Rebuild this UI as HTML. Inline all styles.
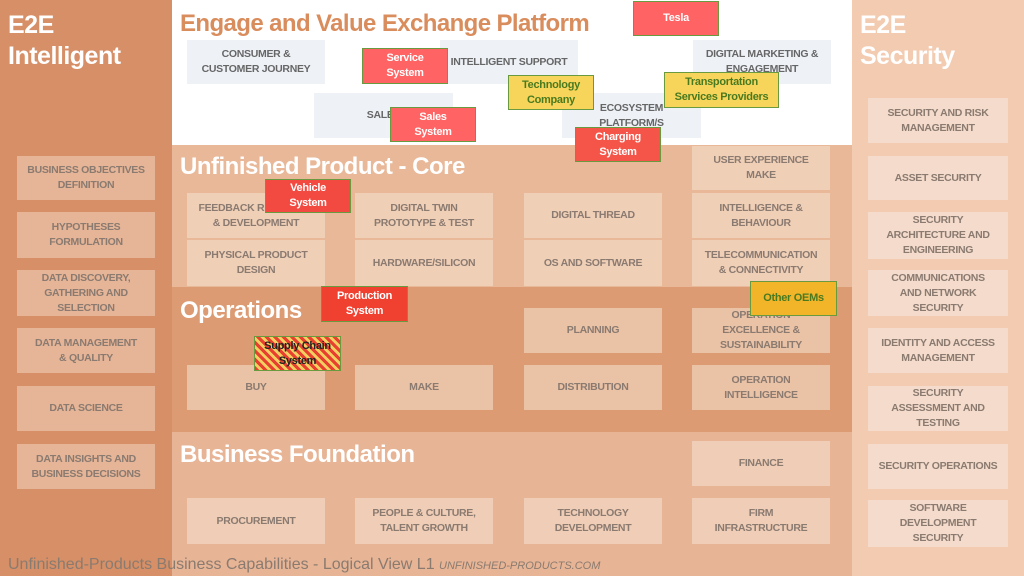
<!DOCTYPE html>
<html><head><style>
*{margin:0;padding:0;box-sizing:border-box}
body{width:1024px;height:576px;overflow:hidden;position:relative;background:#fff;font-family:"Liberation Sans",sans-serif}
div{position:absolute}
.b{display:flex;align-items:center;justify-content:center;text-align:center;color:#8a7a70;font-weight:bold;font-size:10.5px;line-height:15px;letter-spacing:-0.3px}
.l{background:#e6b597}
.m{background:rgba(245,225,210,0.55)}
.t{background:#eef2f7;color:#666}
.r{background:#ff6363;color:#fff;border:1px solid #6a9a40;font-size:11px}
.y{background:#f7d55a;color:#4a7a20;border:1px solid #6a9a40;font-size:11px}
.h{color:#fff;font-weight:bold;font-size:25px;letter-spacing:-0.5px}
</style></head><body>
<div style="left:0;top:0;width:170px;height:576px;background:#d68f66"></div>
<div style="left:852px;top:0;width:172px;height:576px;background:#f2cbb1"></div>
<div style="left:172px;top:145px;width:680px;height:142px;background:#e9b898"></div>
<div style="left:172px;top:287px;width:680px;height:145px;background:#dc9b72"></div>
<div style="left:172px;top:432px;width:680px;height:144px;background:#e7b495"></div>
<div style="left:170px;top:0;width:2px;height:576px;background:#d68f66"></div>
<div class="h" style="left:8px;top:10px;line-height:31px">E2E<br>Intelligent</div>
<div class="h" style="left:860px;top:10px;line-height:31px">E2E<br>Security</div>
<div style="left:180px;top:10px;font-size:24px;font-weight:bold;color:#d98c5c;letter-spacing:-0.6px">Engage and Value Exchange Platform</div>
<div class="h" style="left:180px;top:153px;font-size:24px">Unfinished Product - Core</div>
<div class="h" style="left:180px;top:297px;font-size:24px">Operations</div>
<div class="h" style="left:180px;top:441px;font-size:24px">Business Foundation</div>

<div class="b l" style="left:17px;top:156px;width:138px;height:44px">BUSINESS OBJECTIVES<br>DEFINITION</div>
<div class="b l" style="left:17px;top:212px;width:138px;height:46px">HYPOTHESES<br>FORMULATION</div>
<div class="b l" style="left:17px;top:270px;width:138px;height:46px">DATA DISCOVERY,<br>GATHERING AND<br>SELECTION</div>
<div class="b l" style="left:17px;top:328px;width:138px;height:45px">DATA MANAGEMENT<br>&amp; QUALITY</div>
<div class="b l" style="left:17px;top:386px;width:138px;height:45px">DATA SCIENCE</div>
<div class="b l" style="left:17px;top:444px;width:138px;height:45px">DATA INSIGHTS AND<br>BUSINESS DECISIONS</div>

<div class="b m" style="left:868px;top:98px;width:140px;height:45px;background:rgba(245,230,220,.6)">SECURITY AND RISK<br>MANAGEMENT</div>
<div class="b m" style="left:868px;top:156px;width:140px;height:44px;background:rgba(245,230,220,.6)">ASSET SECURITY</div>
<div class="b m" style="left:868px;top:212px;width:140px;height:47px;background:rgba(245,230,220,.6)">SECURITY<br>ARCHITECTURE AND<br>ENGINEERING</div>
<div class="b m" style="left:868px;top:270px;width:140px;height:46px;background:rgba(245,230,220,.6)">COMMUNICATIONS<br>AND NETWORK<br>SECURITY</div>
<div class="b m" style="left:868px;top:328px;width:140px;height:45px;background:rgba(245,230,220,.6)">IDENTITY AND ACCESS<br>MANAGEMENT</div>
<div class="b m" style="left:868px;top:386px;width:140px;height:45px;background:rgba(245,230,220,.6)">SECURITY<br>ASSESSMENT AND<br>TESTING</div>
<div class="b m" style="left:868px;top:444px;width:140px;height:45px;background:rgba(245,230,220,.6)">SECURITY OPERATIONS</div>
<div class="b m" style="left:868px;top:500px;width:140px;height:47px;background:rgba(245,230,220,.6)">SOFTWARE<br>DEVELOPMENT<br>SECURITY</div>

<div class="b t" style="left:187px;top:40px;width:138px;height:44px">CONSUMER &amp;<br>CUSTOMER JOURNEY</div>
<div class="b t" style="left:440px;top:40px;width:138px;height:44px">INTELLIGENT SUPPORT</div>
<div class="b t" style="left:693px;top:40px;width:138px;height:44px">DIGITAL MARKETING &amp;<br>ENGAGEMENT</div>
<div class="b t" style="left:314px;top:93px;width:139px;height:45px">SALES</div>
<div class="b t" style="left:562px;top:93px;width:139px;height:45px">ECOSYSTEM<br>PLATFORM/S</div>

<div class="b m" style="left:692px;top:146px;width:138px;height:44px">USER EXPERIENCE<br>MAKE</div>
<div class="b m" style="left:187px;top:193px;width:138px;height:45px">FEEDBACK RESEARCH<br>&amp; DEVELOPMENT</div>
<div class="b m" style="left:355px;top:193px;width:138px;height:45px">DIGITAL TWIN<br>PROTOTYPE &amp; TEST</div>
<div class="b m" style="left:524px;top:193px;width:138px;height:45px">DIGITAL THREAD</div>
<div class="b m" style="left:692px;top:193px;width:138px;height:45px">INTELLIGENCE &amp;<br>BEHAVIOUR</div>
<div class="b m" style="left:187px;top:240px;width:138px;height:46px">PHYSICAL PRODUCT<br>DESIGN</div>
<div class="b m" style="left:355px;top:240px;width:138px;height:46px">HARDWARE/SILICON</div>
<div class="b m" style="left:524px;top:240px;width:138px;height:46px">OS AND SOFTWARE</div>
<div class="b m" style="left:692px;top:240px;width:138px;height:46px">TELECOMMUNICATION<br>&amp; CONNECTIVITY</div>

<div class="b m" style="left:524px;top:308px;width:138px;height:45px">PLANNING</div>
<div class="b m" style="left:692px;top:308px;width:138px;height:45px">OPERATION<br>EXCELLENCE &amp;<br>SUSTAINABILITY</div>
<div class="b m" style="left:187px;top:365px;width:138px;height:45px">BUY</div>
<div class="b m" style="left:355px;top:365px;width:138px;height:45px">MAKE</div>
<div class="b m" style="left:524px;top:365px;width:138px;height:45px">DISTRIBUTION</div>
<div class="b m" style="left:692px;top:365px;width:138px;height:45px">OPERATION<br>INTELLIGENCE</div>

<div class="b m" style="left:692px;top:441px;width:138px;height:45px">FINANCE</div>
<div class="b m" style="left:187px;top:498px;width:138px;height:46px">PROCUREMENT</div>
<div class="b m" style="left:355px;top:498px;width:138px;height:46px">PEOPLE &amp; CULTURE,<br>TALENT GROWTH</div>
<div class="b m" style="left:524px;top:498px;width:138px;height:46px">TECHNOLOGY<br>DEVELOPMENT</div>
<div class="b m" style="left:692px;top:498px;width:138px;height:46px">FIRM<br>INFRASTRUCTURE</div>

<div class="b r" style="left:633px;top:1px;width:86px;height:35px">Tesla</div>
<div class="b r" style="left:362px;top:48px;width:86px;height:36px">Service<br>System</div>
<div class="b r" style="left:390px;top:107px;width:86px;height:35px">Sales<br>System</div>
<div class="b r" style="left:575px;top:127px;width:86px;height:35px;background:#f55548">Charging<br>System</div>
<div class="b r" style="left:265px;top:179px;width:86px;height:34px;background:#f24a40">Vehicle<br>System</div>
<div class="b r" style="left:321px;top:286px;width:87px;height:36px;background:#ef4030">Production<br>System</div>
<div class="b r" style="left:254px;top:336px;width:87px;height:35px;color:#222;background:repeating-linear-gradient(45deg,#e84030 0 3px,#f4d060 3px 6px)">Supply Chain<br>System</div>
<div class="b y" style="left:508px;top:75px;width:86px;height:35px">Technology<br>Company</div>
<div class="b y" style="left:664px;top:72px;width:115px;height:36px">Transportation<br>Services Providers</div>
<div class="b y" style="left:750px;top:281px;width:87px;height:35px;background:#f2b52a">Other OEMs</div>

<div style="left:8px;top:556px;font-size:16px;color:#8a7b70;white-space:nowrap">Unfinished-Products Business Capabilities - Logical View L1 <span style="font-size:11px;font-style:italic">UNFINISHED-PRODUCTS.COM</span></div>
</body></html>
